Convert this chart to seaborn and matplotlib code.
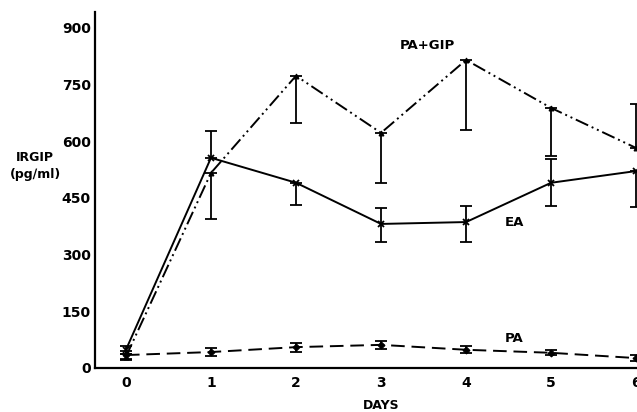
import numpy as np
import pandas as pd
import matplotlib
matplotlib.use("Agg")
import matplotlib.pyplot as plt
import seaborn as sns

# Immunoreactive GIP over time for three treatment groups
days = [0, 1, 2, 3, 4, 5, 6]

ea_mean = [48, 556, 490, 381, 386, 490, 521]
ea_err_lo = [10, 0, 60, 47, 52, 61, 95]
ea_err_hi = [10, 72, 0, 42, 43, 63, 0]

pagip_mean = [30, 516, 773, 622, 815, 688, 582]
pagip_err_lo = [8, 122, 125, 132, 185, 127, 0]
pagip_err_hi = [8, 0, 0, 0, 0, 0, 117]

pa_mean = [34, 42, 55, 61, 48, 40, 26]
pa_err = [10, 10, 12, 10, 9, 7, 8]

y_ticks = [0, 150, 300, 450, 600, 750, 900]

sns.set_theme(style="white")
plt.rcParams["font.family"] = ["DejaVu Sans"]
plt.rcParams["font.weight"] = "bold"
plt.rcParams["text.color"] = "black"

fig = plt.figure(figsize=(6.37, 4.12), dpi=100)
ax = fig.add_axes([0.149, 0.107, 0.851, 0.864])

df = pd.DataFrame({
    "day": days * 3,
    "irgip": ea_mean + pagip_mean + pa_mean,
    "group": ["EA"] * 7 + ["PA+GIP"] * 7 + ["PA"] * 7,
})

styles = {
    "EA": dict(dashes=None, marker="x", ms=5, mew=1.3),
    "PA+GIP": dict(dashes=(7, 2, 1, 2, 1, 2), marker="^", ms=3.5, mew=0.8),
    "PA": dict(dashes=(7, 3.5), marker="D", ms=3.5, mew=0.8),
}

for grp, st in styles.items():
    sub = df[df["group"] == grp]
    sns.lineplot(data=sub, x="day", y="irgip", ax=ax, color="black",
                 lw=1.4, marker=st["marker"], markersize=st["ms"],
                 markeredgewidth=st["mew"], markeredgecolor="black",
                 clip_on=False)
    line = ax.lines[-1]
    if st["dashes"] is not None:
        line.set_dashes(st["dashes"])

err_kw = dict(fmt="none", ecolor="black", elinewidth=1.3, capsize=4,
              capthick=1.3, clip_on=False)
ax.errorbar(days, ea_mean, yerr=[ea_err_lo, ea_err_hi], **err_kw)
ax.errorbar(days, pagip_mean, yerr=[pagip_err_lo, pagip_err_hi], **err_kw)
ax.errorbar(days, pa_mean, yerr=[pa_err, pa_err], **err_kw)

ax.set_xlim(-0.365, 6.01)
ax.set_ylim(0, 942)
ax.set_xticks(days)
ax.set_yticks(y_ticks)
ax.tick_params(axis="both", direction="in", length=5, width=1.3,
               labelsize=10, colors="black", pad=6)
ax.tick_params(axis="y", pad=3)
for lab in ax.get_xticklabels() + ax.get_yticklabels():
    lab.set_fontweight("bold")

for side in ["top", "right"]:
    ax.spines[side].set_visible(False)
for side in ["left", "bottom"]:
    ax.spines[side].set_color("black")
    ax.spines[side].set_linewidth(1.6)

ax.set_xlabel("")
ax.set_ylabel("")
fig.text(0.598, 0.015, "DAYS", ha="center", va="center",
         fontsize=9, fontweight="bold")
fig.text(0.055, 0.597, "IRGIP\n(pg\u2215ml)", ha="center", va="center",
         fontsize=9, fontweight="bold", linespacing=1.35)

ax.text(4.45, 384, "EA", ha="left", va="center", fontsize=9.5,
        fontweight="bold")
ax.text(4.45, 79, "PA", ha="left", va="center", fontsize=9.5,
        fontweight="bold")
ax.text(3.54, 852, "PA+GIP", ha="center", va="center", fontsize=9.5,
        fontweight="bold")

legend = ax.get_legend()
if legend is not None:
    legend.remove()

fig.savefig("out.png", dpi=100)
